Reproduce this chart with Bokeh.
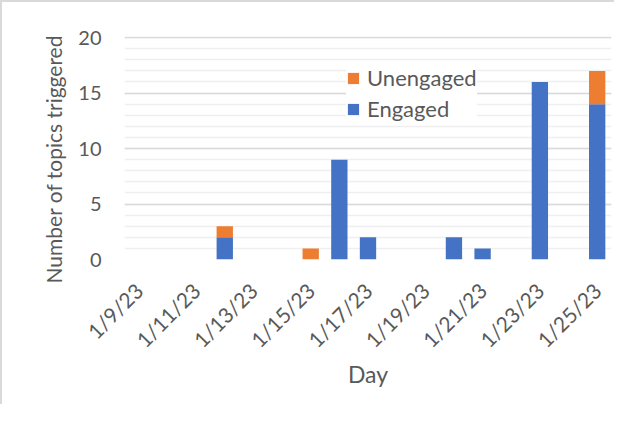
from bokeh.plotting import figure
from bokeh.models import FixedTicker, ColumnDataSource, Legend, LegendItem, Title
from bokeh.embed import file_html
from bokeh.resources import INLINE
import math

# ---- data ----
days = ["1/9/23", "1/10/23", "1/11/23", "1/12/23", "1/13/23", "1/14/23", "1/15/23",
        "1/16/23", "1/17/23", "1/18/23", "1/19/23", "1/20/23", "1/21/23", "1/22/23",
        "1/23/23", "1/24/23", "1/25/23"]
engaged = [0, 0, 0, 2, 0, 0, 0, 9, 2, 0, 0, 2, 1, 0, 16, 0, 14]
unengaged = [0, 0, 0, 1, 0, 0, 1, 0, 0, 0, 0, 0, 0, 0, 0, 0, 3]
tick_labels = ["1/9/23", "1/11/23", "1/13/23", "1/15/23", "1/17/23",
               "1/19/23", "1/21/23", "1/23/23", "1/25/23"]
y_ticks = [0, 5, 10, 15, 20]

idx = list(range(len(days)))
src = ColumnDataSource(dict(x=idx, day=days, engaged=engaged, unengaged=unengaged))

FONT = "Lato"
TXT = "#595959"

p = figure(width=614, height=404, output_backend="svg", toolbar_location=None,
           x_range=(-0.5, len(days) - 0.5), y_range=(0, 20.1),
           min_border_left=122, min_border_right=5, min_border_top=34,
           min_border_bottom=147)
p.outline_line_color = None
p.styles = {"border-top": "2px solid #d9d9d9", "border-left": "2px solid #d9d9d9"}

rs = p.vbar_stack(["engaged", "unengaged"], x="x", width=0.57, source=src,
                  color=["#4472C4", "#ED7D31"], line_color=None)

# axes
tick_pos = [days.index(t) for t in tick_labels]
p.xaxis.ticker = FixedTicker(ticks=tick_pos)
p.xaxis.major_label_overrides = {pos: lab for pos, lab in zip(tick_pos, tick_labels)}
p.xaxis.major_label_orientation = math.pi / 4
p.xaxis.axis_label = "Day"
p.yaxis.ticker = FixedTicker(ticks=y_ticks, minor_ticks=list(range(0, 21)))

for ax in (p.xaxis, p.yaxis):
    ax.axis_line_color = None
    ax.major_tick_line_color = None
    ax.minor_tick_line_color = None
    ax.major_label_text_font = FONT
    ax.major_label_text_color = TXT
    ax.major_label_text_font_size = "20px"
    ax.axis_label_text_font = FONT
    ax.axis_label_text_color = TXT
    ax.axis_label_text_font_size = "23px"
    ax.axis_label_text_font_style = "normal"

p.xaxis.major_label_text_font_size = "21px"
p.xaxis.major_label_standoff = 21
p.xaxis.axis_label_standoff = -4
p.yaxis.major_label_standoff = 17

# y-axis title, placed like the reference (starts slightly below the frame bottom)
ytitle = Title(text="Number of topics triggered", align="left", offset=-24,
               text_font=FONT, text_font_size="21px", text_color=TXT,
               text_font_style="normal", standoff=20)
p.add_layout(ytitle, "left")

p.xgrid.grid_line_color = None
p.ygrid.grid_line_color = "#d9d9d9"
p.ygrid.grid_line_width = 1.5
p.ygrid.minor_grid_line_color = "#efefef"
p.ygrid.minor_grid_line_width = 1.5

legend = Legend(items=[LegendItem(label="Unengaged", renderers=[rs[1]]),
                       LegendItem(label="Engaged", renderers=[rs[0]])],
                location=(222, 137), border_line_color=None,
                background_fill_color="white", background_fill_alpha=1.0,
                label_text_font=FONT, label_text_color=TXT,
                label_text_font_size="22px", glyph_width=14, glyph_height=14,
                label_standoff=7, spacing=4, padding=6, margin=0, label_height=22)
p.add_layout(legend, "center")

open("out.html", "w").write(file_html(p, INLINE))
